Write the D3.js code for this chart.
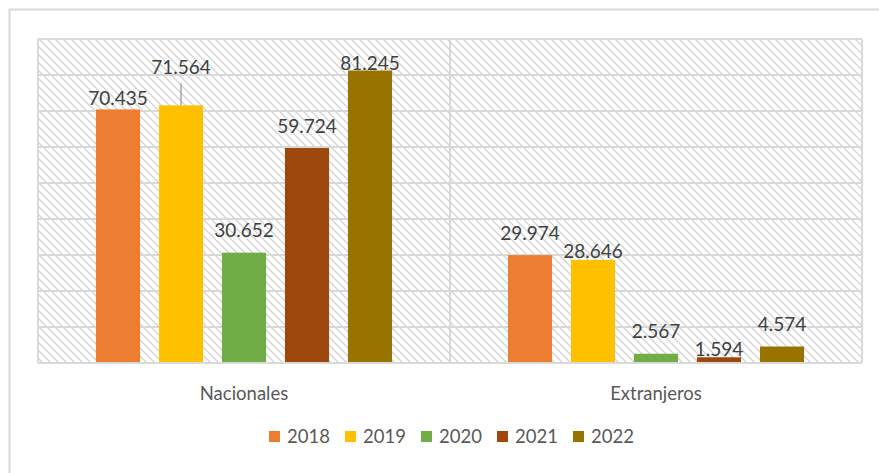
<!DOCTYPE html>
<html>
<head>
<meta charset="utf-8">
<script src="https://cdn.jsdelivr.net/npm/d3@7"></script>
<style>
  body { margin: 0; background: #fff; }
  svg { display: block; font-family: Lato, "Open Sans", sans-serif; }
</style>
</head>
<body>
<div id="chart"></div>
<script>
'use strict';

// data
var categories = ["Nacionales", "Extranjeros"];
var years = ["2018", "2019", "2020", "2021", "2022"];
var nacionales = [70.435, 71.564, 30.652, 59.724, 81.245];
var extranjeros = [29.974, 28.646, 2.567, 1.594, 4.574];
var colors = ["#ED7D31", "#FFC000", "#70AD47", "#9E480E", "#997300"];
var yTicks = [0, 10, 20, 30, 40, 50, 60, 70, 80, 90];

// label lift above bar top (px), as placed by hand in the original
var labelLift = [[4.5, 31, 15.5, 15, 0.5], [15, 2, 16, 1, 15.5]];

var W = 879, H = 473;
var plot = { left: 38, top: 39, right: 862, bottom: 363 };

var svg = d3.select("#chart").append("svg")
	.attr("width", W)
	.attr("height", H);

var defs = svg.append("defs");
var pat = defs.append("pattern")
	.attr("id", "hatch")
	.attr("patternUnits", "userSpaceOnUse")
	.attr("width", 8)
	.attr("height", 8);
pat.append("rect").attr("width", 8).attr("height", 8).attr("fill", "#fff");
pat.append("path")
	.attr("d", "M-2,-2L10,10M-2,6L2,10M6,-2L10,2")
	.attr("stroke", "#d3d3d3")
	.attr("stroke-width", 1.3);

// chart area frame
svg.append("rect")
	.attr("x", 9.5).attr("y", 9.5)
	.attr("width", 900).attr("height", 500)
	.attr("fill", "none")
	.attr("stroke", "#d9d9d9")
	.attr("stroke-width", 2);

var x0 = d3.scaleBand()
	.domain(categories)
	.range([plot.left, plot.right]);

var x1 = d3.scaleBand()
	.domain(years)
	.range([0, x0.bandwidth()])
	.paddingInner(0.3)
	.paddingOuter(0.92);

var y = d3.scaleLinear()
	.domain([0, 90])
	.range([plot.bottom, plot.top]);

// plot background
svg.append("rect")
	.attr("x", plot.left).attr("y", plot.top)
	.attr("width", plot.right - plot.left)
	.attr("height", plot.bottom - plot.top)
	.attr("fill", "url(#hatch)");

// horizontal gridlines
svg.append("g").selectAll("line")
	.data(yTicks)
	.enter().append("line")
	.attr("x1", plot.left).attr("x2", plot.right)
	.attr("y1", function(d) { return y(d); })
	.attr("y2", function(d) { return y(d); })
	.attr("stroke", "#d9d9d9")
	.attr("stroke-width", 2);

// vertical gridlines at category boundaries
var vx = [plot.left, x0("Extranjeros"), plot.right];
svg.append("g").selectAll("line")
	.data(vx)
	.enter().append("line")
	.attr("x1", function(d) { return d; }).attr("x2", function(d) { return d; })
	.attr("y1", plot.top).attr("y2", plot.bottom)
	.attr("stroke", "#d9d9d9")
	.attr("stroke-width", 2);

var series = [nacionales, extranjeros];

var groups = svg.append("g").selectAll("g")
	.data(categories)
	.enter().append("g")
	.attr("transform", function(d) { return "translate(" + x0(d) + ",0)"; });

groups.selectAll("rect")
	.data(function(d, i) {
		return series[i].map(function(v, j) { return { year: years[j], value: v, color: colors[j] }; });
	})
	.enter().append("rect")
	.attr("x", function(d) { return x1(d.year); })
	.attr("width", x1.bandwidth())
	.attr("y", function(d) { return y(d.value); })
	.attr("height", function(d) { return y(0) - y(d.value); })
	.attr("fill", function(d) { return d.color; });

// axis line
svg.append("line")
	.attr("x1", plot.left).attr("x2", plot.right)
	.attr("y1", plot.bottom).attr("y2", plot.bottom)
	.attr("stroke", "#d9d9d9")
	.attr("stroke-width", 2);

var fmt = d3.format(".3f");

groups.each(function(c, i) {
	var g = d3.select(this);
	series[i].forEach(function(v, j) {
		var cx = x1(years[j]) + x1.bandwidth() / 2;
		var base = y(v) - labelLift[i][j];
		g.append("text")
			.attr("x", cx)
			.attr("y", base)
			.attr("text-anchor", "middle")
			.attr("font-size", 19)
			.attr("fill", "#404040")
			.text(fmt(v));
		if (labelLift[i][j] > 25) {
			g.append("line")
				.attr("x1", cx).attr("x2", cx)
				.attr("y1", base + 9).attr("y2", y(v))
				.attr("stroke", "#a6a6a6")
				.attr("stroke-width", 1.5);
		}
	});
});

// category labels
svg.append("g").selectAll("text")
	.data(categories)
	.enter().append("text")
	.attr("x", function(d) { return x0(d) + x0.bandwidth() / 2; })
	.attr("y", 400)
	.attr("text-anchor", "middle")
	.attr("font-size", 18.5)
	.attr("fill", "#595959")
	.text(function(d) { return d; });

// legend
var legend = svg.append("g")
	.attr("transform", "translate(269,431)");

var item = legend.selectAll("g")
	.data(years)
	.enter().append("g")
	.attr("transform", function(d, i) { return "translate(" + (i * 76) + ",0)"; });

item.append("rect")
	.attr("width", 11).attr("height", 11)
	.attr("fill", function(d, i) { return colors[i]; });

item.append("text")
	.attr("x", 18)
	.attr("y", 12)
	.attr("font-size", 18.5)
	.attr("fill", "#595959")
	.text(function(d) { return d; });
</script>
</body>
</html>
